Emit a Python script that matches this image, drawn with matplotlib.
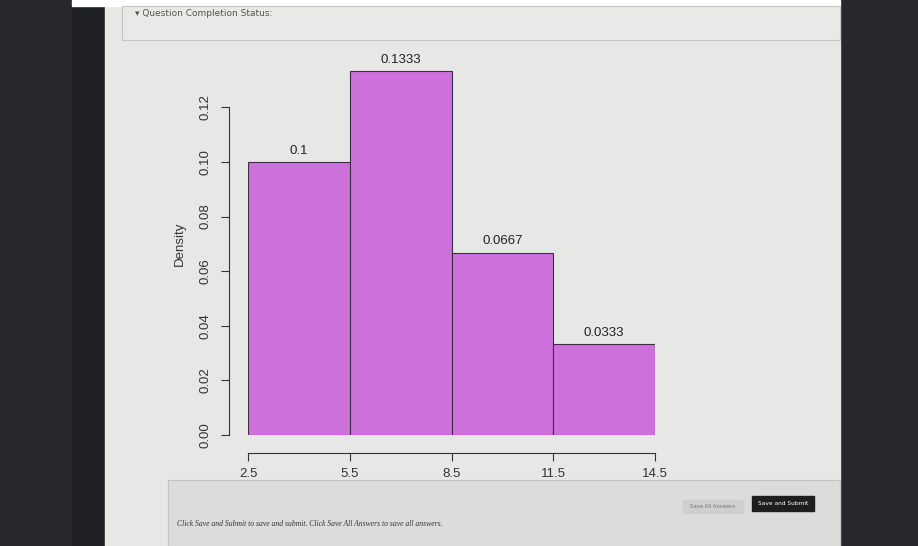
import matplotlib
matplotlib.use("Agg")
import matplotlib.pyplot as plt
from matplotlib.patches import Rectangle

# histogram data (R hist, freq=FALSE)
breaks = [2.5, 5.5, 8.5, 11.5, 14.5]
density = [0.1, 0.1333, 0.0667, 0.0333]
bar_labels = ["0.1", "0.1333", "0.0667", "0.0333"]
y_ticks = [0.00, 0.02, 0.04, 0.06, 0.08, 0.10, 0.12]
y_tick_labels = ["0.00", "0.02", "0.04", "0.06", "0.08", "0.10", "0.12"]
x_ticks = breaks
x_tick_labels = ["2.5", "5.5", "8.5", "11.5", "14.5"]

W, H = 918, 546
fig = plt.figure(figsize=(W / 100, H / 100), dpi=100)
fig.patch.set_facecolor("#26282d")

# page background drawn in pixel coordinates
bg = fig.add_axes([0, 0, 1, 1])
bg.set_xlim(0, W)
bg.set_ylim(H, 0)
bg.axis("off")
bg.add_patch(Rectangle((72, 0), 768, 546, color="#1f2024"))
bg.add_patch(Rectangle((105, 6), 735, 540, color="#e7e7e5"))
bg.add_patch(Rectangle((72, 0), 768, 6, color="#ffffff"))
bg.add_patch(Rectangle((122, 6), 718, 34, facecolor="#e9e9e7", edgecolor="#c4c4c2", lw=0.8))
bg.text(135, 13, "\u25be Question Completion Status:", fontsize=6.5, color="#555555",
        va="center", family="DejaVu Sans")
# bottom bar
bg.add_patch(Rectangle((168, 480), 672, 66, facecolor="#dcdcda", edgecolor="#c4c4c2", lw=0.8))
bg.text(177, 524, "Click Save and Submit to save and submit. Click Save All Answers to save all answers.",
        fontsize=5.5, style="italic", family="Liberation Serif", color="#333333", va="center")
bg.add_patch(Rectangle((683, 500), 60, 13, color="#cfcfcd"))
bg.text(713, 506.5, "Save All Answers", fontsize=3.8, color="#777777", ha="center", va="center")
bg.add_patch(Rectangle((752, 496), 62, 15, color="#1e1e20"))
bg.text(783, 503.5, "Save and Submit", fontsize=4.2, color="#ffffff", ha="center", va="center")

# histogram axes, placed so that 2.5 -> x=248px, 14.5 -> x=655px, 0 -> y=435px
ymax = 0.14
left, right = 248, 655
base = 435
ppu = 2730  # pixels per density unit
ax = fig.add_axes([left / W, (H - base) / H, (right - left) / W, ymax * ppu / H])
ax.set_facecolor("none")

widths = [breaks[i + 1] - breaks[i] for i in range(len(density))]
ax.bar(breaks[:-1], density, width=widths, align="edge",
       color="#cd70dc", edgecolor="#3a3040", linewidth=0.8)
for i, lab in enumerate(bar_labels):
    ax.text(breaks[i] + widths[i] / 2, density[i] + 0.002, lab, ha="center", va="bottom",
            fontsize=9.5, family="Liberation Sans", color="#222222")

ax.set_xlim(breaks[0], breaks[-1])
ax.set_ylim(0, ymax)
for s in ["top", "right"]:
    ax.spines[s].set_visible(False)
ax.spines["left"].set_position(("outward", 14))
ax.spines["bottom"].set_position(("outward", 13))
ax.spines["left"].set_bounds(0, 0.12)
ax.spines["bottom"].set_bounds(breaks[0], breaks[-1])
ax.spines["left"].set_color("#333333")
ax.spines["bottom"].set_color("#333333")

ax.set_yticks(y_ticks)
ax.set_yticklabels(y_tick_labels, rotation=90, va="center", family="Liberation Sans",
                   fontsize=9.5, color="#333333")
ax.set_xticks(x_ticks)
ax.set_xticklabels(x_tick_labels, family="Liberation Sans", fontsize=9.5, color="#333333")
ax.tick_params(length=6, width=0.8, color="#333333")
ax.tick_params(axis="y", pad=6)
ax.tick_params(axis="x", pad=5)
ax.set_ylabel("Density", family="Liberation Sans", fontsize=9.5, color="#333333", labelpad=10)

fig.savefig("out.png", dpi=100, facecolor=fig.get_facecolor())
